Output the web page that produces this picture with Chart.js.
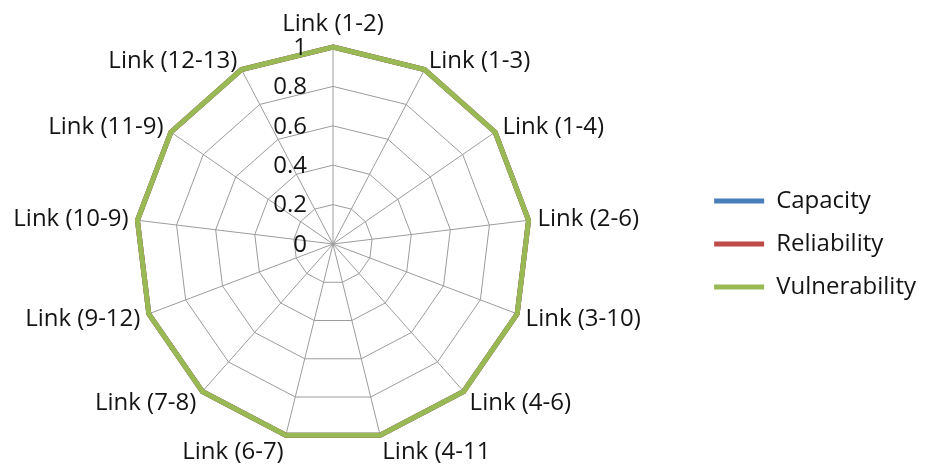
<!DOCTYPE html>
<html>
<head>
<meta charset="utf-8">
<script src="https://cdn.jsdelivr.net/npm/chart.js@4/dist/chart.umd.min.js"></script>
<style>
  html, body { margin: 0; padding: 0; background: #ffffff; }
  #wrap { width: 926px; height: 465px; }
</style>
</head>
<body>
<div id="wrap"><canvas id="c" width="926" height="465"></canvas></div>
<script>
// ---- data ----
const categories = [
  "Link (1-2)", "Link (1-3)", "Link (1-4)", "Link (2-6)", "Link (3-10)",
  "Link (4-6)", "Link (4-11", "Link (6-7)", "Link (7-8)", "Link (9-12)",
  "Link (10-9)", "Link (11-9)", "Link (12-13)"
];
const capacity      = [1, 1, 1, 1, 1, 1, 1, 1, 1, 1, 1, 1, 1];
const reliability   = [1, 1, 1, 1, 1, 1, 1, 1, 1, 1, 1, 1, 1];
const vulnerability = [1, 1, 1, 1, 1, 1, 1, 1, 1, 1, 1, 1, 1];
const seriesNames = ["Capacity", "Reliability", "Vulnerability"];
const tickLabels = ["0", "0.2", "0.4", "0.6", "0.8", "1"];
const tickMin = 0, tickMax = 1, tickStep = 0.2;

const FONT = "'Open Sans', 'DejaVu Sans', sans-serif";
const TEXT = "#141414";

const labelPlugin = {
  id: 'excelLabels',
  afterDraw(chart) {
    const s = chart.scales.r;
    const ctx = chart.ctx;
    ctx.save();
    ctx.font = "24px " + FONT;
    ctx.fillStyle = TEXT;
    // tick labels, right aligned left of vertical axis
    ctx.textAlign = 'right';
    ctx.textBaseline = 'middle';
    s.ticks.forEach(t => {
      const d = s.getDistanceFromCenterForValue(t.value);
      ctx.fillText(t.label, s.xCenter - 26, s.yCenter - d + 1);
    });
    // point labels
    chart.data.labels.forEach((lab, i) => {
      const ang = s.getIndexAngle(i); // 0 at top, clockwise
      const sin = Math.sin(ang), cos = Math.cos(ang);
      const pad = 9;
      const p = s.getPointPosition(i, s.drawingArea + pad);
      let x = p.x, y = p.y;
      if (Math.abs(sin) < 0.05) ctx.textAlign = 'center';
      else ctx.textAlign = sin > 0 ? 'left' : 'right';
      if (cos > 0.99) { ctx.textBaseline = 'bottom'; y -= 2; }
      else if (cos < -0.9) { ctx.textBaseline = 'top'; y -= 4; }
      else { ctx.textBaseline = 'middle'; y += (cos < 0 ? -cos * 6 : 0); }
      ctx.fillText(lab, x, y);
    });
    ctx.restore();
  }
};

const ds = (label, data, color, order) => ({
  label, data,
  borderColor: color,
  backgroundColor: color,
  borderWidth: 5,
  pointRadius: 0,
  pointHoverRadius: 0,
  fill: false,
  tension: 0,
  order
});

new Chart(document.getElementById('c'), {
  type: 'radar',
  data: {
    labels: categories,
    datasets: [
      ds(seriesNames[0], capacity, '#4a7ebb', 2),
      ds(seriesNames[1], reliability, '#be4b48', 1),
      ds(seriesNames[2], vulnerability, '#98b954', 0)
    ]
  },
  options: {
    responsive: false,
    animation: false,
    devicePixelRatio: 1,
    layout: { padding: { top: 47, bottom: 24, left: 0, right: 0 } },
    plugins: {
      tooltip: { enabled: false },
      legend: {
        position: 'right',
        align: 'center',
        labels: {
          font: { family: FONT, size: 24 },
          color: TEXT,
          usePointStyle: true,
          pointStyle: 'line',
          pointStyleWidth: 50,
          padding: 19,
          sort: (a, b) => a.datasetIndex - b.datasetIndex
        }
      }
    },
    scales: {
      r: {
        min: tickMin,
        max: tickMax,
        ticks: {
          stepSize: tickStep,
          display: false,
          callback: (v, i) => tickLabels[i]
        },
        pointLabels: { display: false },
        grid: { color: '#9c9c9c', lineWidth: 1 },
        angleLines: { color: '#9c9c9c', lineWidth: 1 },
        afterFit(scale) {
          scale.xCenter = 333;
          scale.yCenter = 244;
          scale.drawingArea = 197;
        }
      }
    }
  },
  plugins: [labelPlugin]
});
</script>
</body>
</html>
